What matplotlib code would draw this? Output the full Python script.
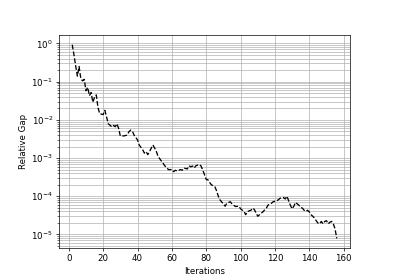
import numpy as np
import matplotlib
matplotlib.use('Agg')
import matplotlib.pyplot as plt

# Relative gap, per iteration
iters = [2, 3, 4, 5, 6, 7, 8, 9, 10, 11, 12, 13, 14, 15, 16, 17, 18, 20, 21, 22,
         23, 25, 26, 27, 28, 29, 30, 32, 34, 35, 36, 37, 38, 40, 41, 43, 44, 45,
         46, 47, 48, 49, 50, 51, 52, 54, 56, 58, 60, 61, 62, 63, 65, 66, 67, 69,
         70, 71, 72, 73, 74, 76, 77, 78, 79, 80, 81, 82, 83, 85, 86, 87, 88, 90,
         91, 92, 94, 95, 97, 99, 100, 102, 103, 104, 106, 107, 108, 109, 110,
         112, 113, 114, 115, 116, 118, 119, 121, 122, 123, 125, 126, 127, 128,
         129, 130, 131, 132, 133, 134, 135, 136, 137, 138, 139, 140, 141, 142,
         143, 144, 145, 146, 147, 148, 149, 150, 151, 152, 153, 154, 155, 156]
gap = [0.93, 0.51, 0.26, 0.14, 0.25, 0.12, 0.105, 0.115, 0.058, 0.071, 0.043,
       0.052, 0.029, 0.039, 0.045, 0.021, 0.0145, 0.0138, 0.0178, 0.012,
       0.0079, 0.0066, 0.0072, 0.0066, 0.0079, 0.0060, 0.0038, 0.0038, 0.0040,
       0.0049, 0.0054, 0.0051, 0.0040, 0.0030, 0.0022, 0.00166, 0.00135,
       0.00148, 0.00123, 0.00148, 0.00182, 0.0022, 0.00182, 0.00148, 0.0011,
       8.3e-4, 6.2e-4, 5.0e-4, 5.0e-4, 4.4e-4, 4.8e-4, 4.6e-4, 5.0e-4, 4.8e-4,
       5.5e-4, 5.2e-4, 6.3e-4, 5.9e-4, 6.2e-4, 5.5e-4, 6.3e-4, 6.8e-4, 6.2e-4,
       4.8e-4, 3.7e-4, 2.75e-4, 2.7e-4, 2.3e-4, 2.0e-4, 1.8e-4, 1.4e-4,
       1.02e-4, 8.1e-5, 6.3e-5, 5.5e-5, 6.6e-5, 7.2e-5, 6.3e-5, 5.4e-5, 5.5e-5,
       4.7e-5, 4.0e-5, 3.3e-5, 4.0e-5, 4.3e-5, 4.9e-5, 4.5e-5, 3.7e-5, 3.0e-5,
       3.6e-5, 3.9e-5, 4.4e-5, 4.9e-5, 5.9e-5, 6.6e-5, 7.2e-5, 7.6e-5, 8.1e-5,
       8.9e-5, 9.3e-5, 8.5e-5, 1.0e-4, 7.6e-5, 5.8e-5, 4.7e-5, 5.5e-5, 6.9e-5,
       6.3e-5, 5.8e-5, 5.1e-5, 4.9e-5, 4.3e-5, 4.0e-5, 4.3e-5, 3.9e-5, 3.3e-5,
       3.0e-5, 2.7e-5, 2.3e-5, 2.0e-5, 1.9e-5, 2.2e-5, 1.9e-5, 2.2e-5, 2.3e-5,
       1.9e-5, 2.1e-5, 2.2e-5, 1.9e-5, 1.4e-5, 7.9e-6]

fig = plt.figure(figsize=(6.4, 4.48), dpi=62.5)
ax = fig.add_subplot(111)
fig.subplots_adjust(left=0.1475, right=0.875, bottom=0.114, top=0.875)

ax.semilogy(iters, gap, 'k--', linewidth=1.5)
ax.grid(True, which='both')
ax.set_xlabel('Iterations')
ax.set_ylabel('Relative Gap')

fig.savefig('out.png', dpi=62.5)
